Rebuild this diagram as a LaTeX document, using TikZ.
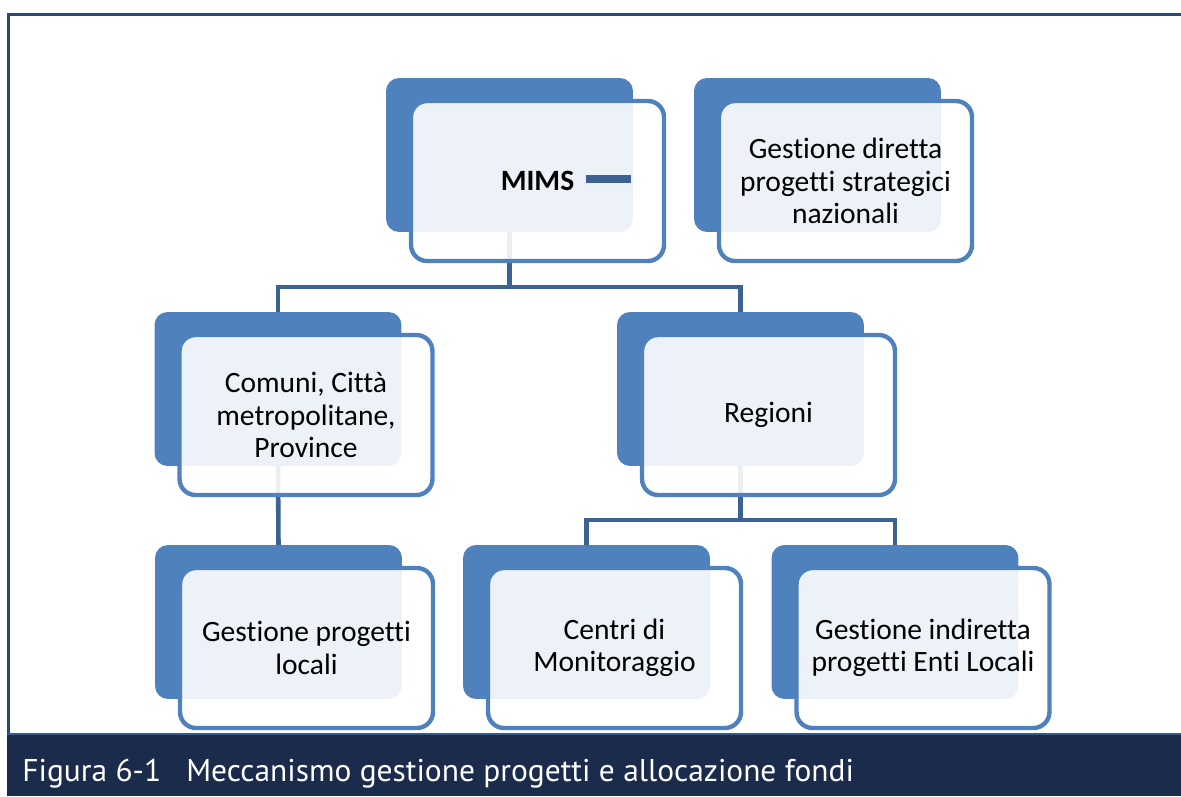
\documentclass[tikz,border=0pt]{standalone}
\usepackage{fontspec}
\setmainfont{Carlito}[Ligatures=NoCommon]
\newfontfamily\capfont{PT Sans}
\usetikzlibrary{calc,positioning}
\definecolor{boxblue}{RGB}{79,129,189}
\definecolor{linkblue}{RGB}{60,98,146}
\definecolor{framblue}{RGB}{33,74,125}
\definecolor{capnavy}{RGB}{27,43,75}

\begin{document}
\begin{tikzpicture}[x=0.02cm,y=-0.02cm,
  back/.style={fill=boxblue,rounded corners=0.26cm,minimum width=4.94cm,minimum height=3.08cm,inner sep=0pt,outer sep=0pt},
  front/.style={draw=boxblue,line width=2.5pt,fill=white,fill opacity=0.9,text opacity=1,rounded corners=0.32cm,
    minimum width=5.06cm,minimum height=3.2cm,inner sep=0pt,align=center,font=\fontsize{16.8}{18.3}\selectfont},
  conn/.style={draw=linkblue,line width=2.6pt,line join=miter},
  captxt/.style={anchor=base west,inner sep=0pt,text=white,font=\capfont\fontsize{17.9}{20}\selectfont}]
  \useasboundingbox (0,0) rectangle (1181,796);
  % frame and caption band
  \fill[capnavy] (7,734) rectangle (1181,796);
  \draw[framblue,line width=1.4pt] (8.5,734) -- (8.5,14.5) -- (1181,14.5);
  \draw[framblue!70!boxblue,line width=1.2pt] (7,734) -- (1181,734);
  \node[captxt] (capnum) at (22,781) {Figura 6-1};
  \node[captxt] (captext) at (186,781) {Meccanismo gestione progetti e allocazione fondi};

  % back blocks
  \node[back] (mimsB) at (509.5,155) {};
  \node[back] (strategB) at (817.5,155) {};
  \node[back] (comuniB) at (278,389) {};
  \node[back] (regioniB) at (740.5,389) {};
  \node[back] (localiB) at (278.5,622) {};
  \node[back] (centriB) at (586.5,622) {};
  \node[back] (indirettaB) at (895,622) {};

  % connectors
  \coordinate (splitTop) at ($(mimsB.south)+(0,55)$);
  \coordinate (splitLow) at ($(regioniB.south)+(0,54)$);
  \draw[conn] (mimsB.south) -- (splitTop);
  \draw[conn] (comuniB.north) |- (splitTop) -| (regioniB.north);
  \draw[conn] (comuniB.south) -- (localiB.north);
  \draw[conn] (regioniB.south) -- (splitLow);
  \draw[conn] (centriB.north) |- (splitLow) -| (indirettaB.north);

  % front blocks
  \node[front] (mims) at ($(mimsB)+(28,26)$) {\textbf{MIMS}};
  \node[front] (strateg) at ($(strategB)+(28,26)$) {Gestione diretta\\progetti strategici\\nazionali};
  \node[front] (comuni) at ($(comuniB)+(28,26)$) {Comuni, Città\\metropolitane,\\Province};
  \node[front] (regioni) at ($(regioniB)+(28,26)$) {Regioni};
  \node[front] (locali) at ($(localiB)+(28,26)$) {Gestione progetti\\locali};
  \node[front] (centri) at ($(centriB)+(28,26)$) {Centri di\\Monitoraggio};
  \node[front] (indiretta) at ($(indirettaB)+(28,26)$) {Gestione indiretta\\progetti Enti Locali};
  \draw[linkblue,line width=4pt] ($(mims)+(48,-2)$) -- ($(mims)+(93,-2)$);
\end{tikzpicture}
\end{document}
